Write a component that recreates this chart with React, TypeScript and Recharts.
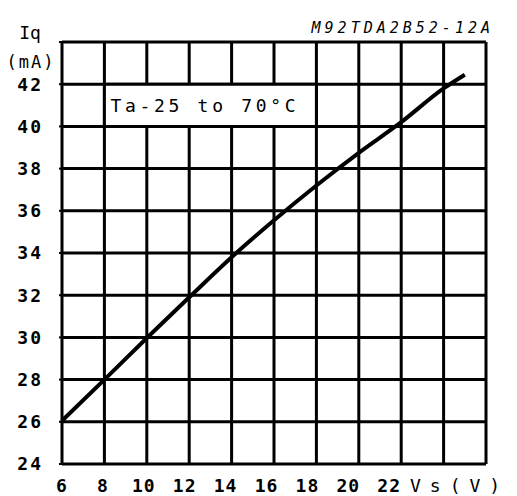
import {
  LineChart, Line, XAxis, YAxis, CartesianGrid, ReferenceArea, Customized,
} from 'recharts';

// Quiescent current vs supply voltage
const vsValues = [6, 8, 10, 12, 14, 16, 18, 20, 22, 24, 25];
const iqValues = [26.05, 28.0, 29.97, 31.9, 33.8, 35.55, 37.2, 38.75, 40.2, 41.8, 42.45];

const xTicks = [6, 8, 10, 12, 14, 16, 18, 20, 22, 24, 26];
const yTicks = [24, 26, 28, 30, 32, 34, 36, 38, 40, 42, 44];
const xLabelled = [6, 8, 10, 12, 14, 16, 18, 20, 22];
const yLabelled = [24, 26, 28, 30, 32, 34, 36, 38, 40, 42];

const FONT = '"DejaVu Sans Mono", monospace';

const data = vsValues.map((vs, i) => ({ vs, iq: iqValues[i] }));

function XTick({ x, y, payload }: any) {
  if (!xLabelled.includes(payload.value)) return null;
  // the printed labels creep slightly left of their grid lines
  const drift = -(payload.value - 6) * 0.75;
  return (
    <text x={x + drift} y={y} dy="0.71em" textAnchor="middle" fontFamily={FONT} fontSize={18}
      fontWeight="bold" fill="#000" letterSpacing={1}>
      {payload.value}
    </text>
  );
}

function YTick({ x, y, payload }: any) {
  if (!yLabelled.includes(payload.value)) return null;
  return (
    <text x={x} y={y} dy="0.355em" textAnchor="end" fontFamily={FONT} fontSize={18} fontWeight="bold"
      fill="#000" letterSpacing={2}>
      {payload.value}
    </text>
  );
}

function Annotations() {
  return (
    <g fontFamily={FONT} fill="#000">
      <text x={30} y={32} textAnchor="middle" dominantBaseline="central" fontSize={18}>Iq</text>
      <text x={31} y={62} textAnchor="middle" dominantBaseline="central" fontSize={17} letterSpacing={2}>(mA)</text>
      <text x={494} y={28} textAnchor="end" dominantBaseline="central" fontSize={15} fontStyle="italic" letterSpacing={4}>
        M92TDA2B52-12A
      </text>
      <text x={410} y={485} dominantBaseline="central" fontSize={18} letterSpacing={9}>Vs(V)</text>
    </g>
  );
}

function AreaLabel({ viewBox }: any) {
  return (
    <text x={viewBox.x + 6} y={viewBox.y + viewBox.height / 2} dominantBaseline="central"
      fontFamily={FONT} fontSize={18} fill="#000" letterSpacing={3.7}>
      Ta-25 to 70°C
    </text>
  );
}

export default function App() {
  return (
    <div style={{ position: 'absolute', left: 0, top: 0, width: 517, height: 496, background: '#fff' }}>
      <LineChart width={517} height={496} data={data} margin={{ top: 42, right: 31, bottom: 0, left: 0 }}>
        <CartesianGrid stroke="#000" strokeWidth={3} />
        <XAxis
          dataKey="vs" type="number" domain={[6, 26]} ticks={xTicks} height={32}
          axisLine={false} tickLine={false} tickSize={0} tickMargin={15} tick={<XTick />} interval={0}
        />
        <YAxis
          type="number" domain={[24, 44]} ticks={yTicks} width={62}
          axisLine={false} tickLine={{ stroke: '#000', strokeWidth: 2 }} tickSize={3} tickMargin={16}
          tick={<YTick />} interval={0}
        />
        <ReferenceArea x1={8} x2={18} y1={40} y2={42} fill="#fff" fillOpacity={1} stroke="#000" strokeWidth={3}
          label={<AreaLabel />} />
        <Line type="monotone" dataKey="iq" stroke="#000" strokeWidth={4} dot={false} isAnimationActive={false} />
        <Customized component={Annotations} />
      </LineChart>
    </div>
  );
}
